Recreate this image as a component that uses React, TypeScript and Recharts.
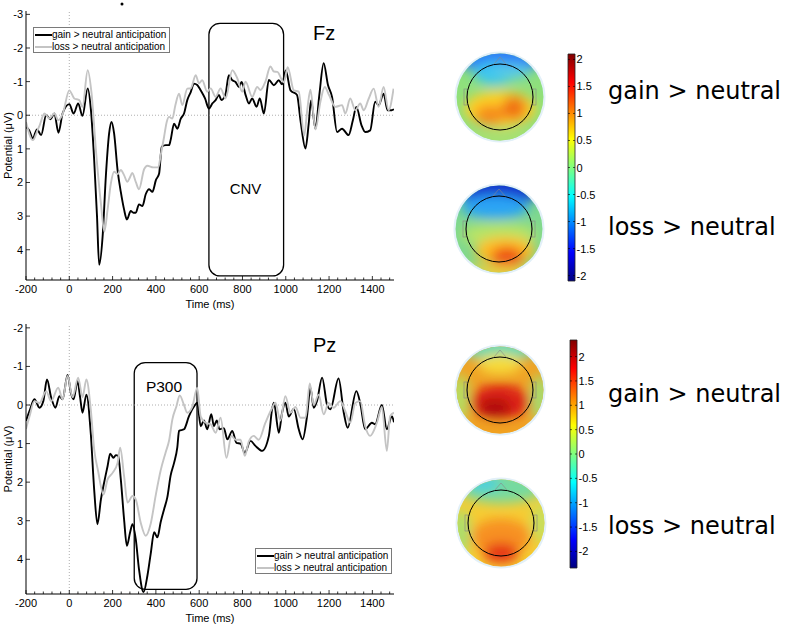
import React from 'react';
import { LineChart, Line, XAxis, YAxis, ReferenceLine, ReferenceArea, Legend, ComposedChart } from 'recharts';

const FONT = '"Liberation Sans", Arial, Helvetica, sans-serif';
const TEXT_FONT = '"DejaVu Sans", Verdana, sans-serif';

// ---------- data ----------
const xMajorTicks = [-200, 0, 200, 400, 600, 800, 1000, 1200, 1400];
const xMinorStep = 40;
const fzTicks = [-3, -2, -1, 0, 1, 2, 3, 4];
const pzTicks = [-2, -1, 0, 1, 2, 3, 4];
const cbTicks = [-2, -1.5, -1, -0.5, 0, 0.5, 1, 1.5, 2];
const seriesNames = ['gain > neutral anticipation', 'loss > neutral anticipation'];
const mapLabels = ['gain > neutral', 'loss > neutral'];

// [time ms, potential µV]
const fzGain: [number, number][] = [
  [-200, 0.35], [-185, 0.45], [-169, 0.69], [-149, 0.42], [-130, 0.59], [-107, 0.0], [-87, 0.12], [-69, -0.05],
  [-50, 0.52], [-31, -0.05], [0, -0.33], [20, -0.05], [41, -0.35], [61, 0.02], [85, -0.8], [100, -0.15],
  [115, 1.34], [128, 3.0], [138, 4.45], [154, 3.6], [169, 1.8], [184, 0.54], [195, 0.2], [207, 0.54],
  [223, 1.63], [238, 2.28], [253, 2.8], [266, 3.1], [284, 2.85], [296, 2.9], [307, 2.9], [322, 2.65],
  [338, 2.7], [353, 2.35], [369, 2.2], [384, 2.28], [400, 1.93], [415, 1.73], [427, 0.94], [446, 0.89],
  [461, 0.89], [468, 0.74], [484, 0.25], [499, 0.4], [515, 0.1], [530, -0.05], [545, -0.45], [561, -0.69],
  [576, -0.94], [591, -0.9], [607, -0.74], [627, -0.5], [645, -0.2], [661, -0.35], [676, -0.45], [691, -0.6],
  [703, -0.45], [722, -0.64], [737, -1.19], [753, -1.04], [768, -0.99], [784, -0.84], [796, -0.99], [815, -0.59],
  [830, -0.35], [845, -0.5], [865, -0.25], [880, -0.5], [899, -0.05], [922, -1.05], [945, -0.89], [968, -1.04],
  [983, -0.92], [1000, -1.33], [1022, -0.74], [1052, -0.6], [1068, 0.15], [1091, 0.99], [1106, 0.25], [1117, -0.45],
  [1137, 0.4], [1155, -0.6], [1175, -1.55], [1195, -0.9], [1214, -0.54], [1237, 0.5], [1260, 0.4], [1290, 0.59],
  [1310, 0.15], [1326, -0.25], [1350, 0.3], [1367, 0.5], [1390, 0.45], [1413, -0.4], [1429, -0.3], [1452, -0.64],
  [1470, -0.15], [1490, -0.15], [1500, -0.18],
];
const fzLoss: [number, number][] = [
  [-200, 0.2], [-168, 0.74], [-150, 0.5], [-137, 0.3], [-115, -0.05], [-92, 0.1], [-69, -0.05], [-51, 0.15],
  [-30, -0.05], [0, -0.74], [23, -0.5], [46, -0.45], [61, -0.25], [85, -1.34], [103, -0.64], [123, 1.04],
  [146, 2.62], [162, 3.46], [177, 2.8], [192, 2.03], [207, 1.68], [223, 1.75], [238, 1.63], [253, 1.78],
  [268, 1.98], [280, 1.85], [291, 1.72], [308, 2.0], [322, 2.2], [346, 1.6], [361, 1.5], [388, 1.55],
  [411, 1.55], [422, 1.2], [438, 0.64], [450, 0.2], [461, 0.05], [476, 0.1], [490, -0.3], [507, -0.64],
  [522, -0.3], [545, -0.79], [561, -0.8], [584, -1.19], [599, -0.95], [614, -1.04], [637, -0.7], [653, -0.8],
  [676, -0.55], [699, -0.8], [722, -0.5], [753, -1.34], [776, -1.1], [799, -0.7], [814, -1.0], [845, -0.55],
  [868, -0.84], [883, -0.75], [906, -1.0], [929, -1.45], [945, -1.3], [961, -1.29], [991, -0.98], [1009, -1.43],
  [1037, -0.74], [1060, -0.7], [1085, 0.6], [1100, -0.2], [1114, -0.76], [1137, 0.42], [1160, -0.4], [1180, -0.84],
  [1200, -0.6], [1229, -0.25], [1260, -0.3], [1275, -0.05], [1298, -0.5], [1321, -0.15], [1344, -0.35], [1360, -0.15],
  [1383, -0.49], [1406, -0.79], [1429, -0.25], [1452, -0.84], [1475, -0.15], [1498, -0.79],
];
const pzGain: [number, number][] = [
  [-200, 0.41], [-184, 0.16], [-161, -0.15], [-138, 0.07], [-120, -0.1], [-103, -0.66], [-84, -0.2], [-64, 0.07],
  [-46, -0.23], [-31, -0.15], [-8, -0.78], [8, -0.3], [20, -0.15], [38, -0.62], [50, -0.2], [61, 0.2],
  [79, -0.27], [99, 0.72], [115, 2.2], [130, 3.09], [146, 2.45], [161, 2.01], [177, 1.58], [189, 1.26],
  [204, 1.37], [215, 1.3], [226, 1.32], [238, 1.93], [253, 2.96], [266, 3.65], [281, 3.3], [292, 3.09],
  [307, 3.48], [322, 4.26], [343, 4.85], [361, 4.42], [376, 3.86], [392, 3.3], [407, 3.43], [422, 3.04],
  [438, 2.7], [453, 2.39], [468, 1.83], [484, 1.5], [499, 1.1], [507, 0.67], [530, 0.63], [553, 0.29],
  [581, 0.0], [591, -0.06], [607, 0.55], [622, 0.4], [637, 0.63], [656, 0.24], [668, 0.55], [681, 0.4],
  [694, 0.63], [714, 0.6], [730, 0.89], [753, 0.67], [772, 0.98], [791, 1.0], [811, 1.24], [837, 0.93],
  [860, 1.06], [891, 1.19], [922, 0.8], [937, 0.1], [945, -0.06], [968, 0.72], [983, 0.2], [998, -0.06],
  [1014, 0.3], [1037, 0.1], [1060, 0.63], [1078, 0.89], [1098, 0.3], [1114, -0.45], [1129, 0.07], [1144, -0.1],
  [1168, -0.71], [1191, 0.0], [1206, 0.11], [1244, -0.69], [1268, 0.2], [1286, 0.59], [1326, -0.36], [1344, -0.05],
  [1367, 0.63], [1398, 0.46], [1413, 0.5], [1444, 0.0], [1467, 0.63], [1490, 0.29], [1500, 0.45],
];
const pzLoss: [number, number][] = [
  [-200, 0.62], [-184, 0.3], [-161, -0.1], [-138, -0.05], [-107, -0.36], [-84, -0.1], [-51, -0.45], [-31, -0.15],
  [-8, -0.75], [15, -0.2], [41, -0.71], [61, -0.2], [79, -0.66], [99, 0.1], [115, 1.15], [133, 1.71],
  [158, 2.32], [177, 1.93], [200, 1.76], [223, 1.5], [235, 1.11], [253, 1.84], [269, 2.53], [292, 2.36],
  [307, 2.45], [330, 3.05], [353, 3.39], [376, 3.08], [399, 2.35], [422, 1.7], [445, 1.23], [461, 0.92],
  [476, 0.38], [495, 0.03], [510, -0.25], [530, 0.0], [545, 0.2], [568, 0.05], [591, -0.45], [607, 0.3],
  [630, 0.46], [653, 0.5], [676, 0.72], [699, 0.33], [726, 1.37], [749, 0.8], [768, 0.9], [791, 0.9],
  [811, 1.32], [829, 0.95], [852, 0.8], [875, 0.9], [906, 0.46], [934, 0.11], [952, -0.06], [975, 0.4],
  [998, -0.23], [1022, 0.2], [1045, 0.05], [1068, 0.33], [1091, 0.33], [1111, -0.56], [1129, 0.0], [1152, -0.27],
  [1175, 0.24], [1198, -0.05], [1221, 0.07], [1252, -0.1], [1275, 0.16], [1298, 0.46], [1321, -0.05], [1344, -0.1],
  [1367, 0.55], [1390, 0.8], [1421, 0.46], [1444, 0.05], [1467, 1.19], [1482, 0.29], [1500, 0.2],
];

// analysis windows [start ms, end ms, top µV, bottom µV]
const cnvWindow = [645, 990, -2.73, 4.78];
const p300Window = [300, 590, -1.1, 4.78];

// ---------- helpers ----------
const toPts = (a: [number, number][]) => a.map(([t, v]) => ({ t, v }));
const xTicks: number[] = [];
for (let t = xMajorTicks[0]; t < 1500; t += xMinorStep) xTicks.push(t);

const XTick = (props: any) => {
  const { x, y, payload } = props;
  const major = xMajorTicks.includes(payload.value);
  return (
    <g>
      <line x1={x} x2={x} y1={y} y2={y - (major ? 4 : 2.5)} stroke="#000" strokeWidth={0.8} />
      {major && (
        <text x={x} y={y + 13} textAnchor="middle" fontSize={11} fontFamily={FONT} fill="#000">
          {payload.value}
        </text>
      )}
    </g>
  );
};

const YTick = (props: any) => {
  const { x, y, payload } = props;
  return (
    <g>
      <line x1={x} x2={x + 4} y1={y} y2={y} stroke="#000" strokeWidth={0.8} />
      <text x={x - 3} y={y + 4} textAnchor="end" fontSize={11} fontFamily={FONT} fill="#000">
        {payload.value}
      </text>
    </g>
  );
};

const YLab = (props: any) => {
  const vb = props.viewBox || { x: 0, y: 0, width: 0, height: 0 };
  const cy = vb.y + vb.height / 2;
  return (
    <text x={8} y={cy} transform={`rotate(-90, 8, ${cy})`} textAnchor="middle" dominantBaseline="central" fontSize={11} fontFamily={FONT} fill="#000">
      Potential (μV)
    </text>
  );
};

const XLab = (props: any) => {
  const vb = props.viewBox || { x: 0, y: 0, width: 0, height: 0 };
  return (
    <text x={vb.x + vb.width / 2} y={vb.y + 23.5} textAnchor="middle" dominantBaseline="central" fontSize={11} fontFamily={FONT} fill="#000">
      Time (ms)
    </text>
  );
};

const RoundBox = (p: any) => (
  <rect x={p.x} y={p.y} width={p.width} height={p.height} rx={11} ry={11} fill="none" stroke="#000" strokeWidth={1.3} />
);

const LegendBox = (props: any) => {
  const payload = props.payload || [];
  return (
    <div style={{ border: '1px solid #7a7a7a', background: '#fff', width: 137, height: 26, boxSizing: 'border-box', padding: '1px 0 0 1px', fontFamily: FONT, fontSize: 10, lineHeight: '12px', color: '#000' }}>
      {payload.map((p: any, i: number) => (
        <div key={i} style={{ display: 'flex', alignItems: 'center', whiteSpace: 'nowrap' }}>
          <span style={{ display: 'inline-block', width: 17, height: 2, background: p.color }} />
          <span>{p.value}</span>
        </div>
      ))}
    </div>
  );
};

const ErpChart = ({ gain, loss, domain, ticks, top, height, marginTop, marginBottom, box, legendPos }: any) => (
  <div style={{ position: 'absolute', left: 0, top }}>
    <LineChart width={400} height={height} margin={{ top: marginTop, right: 6, bottom: marginBottom, left: 0 }}>
      <XAxis type="number" dataKey="t" domain={[-200, 1500]} ticks={xTicks} interval={0} tick={<XTick />}
        tickSize={0} tickMargin={0} tickLine={false} height={30} allowDataOverflow axisLine={{ stroke: '#000', strokeWidth: 1 }}
        label={<XLab />} />
      <YAxis type="number" domain={domain} reversed ticks={ticks} interval={0} tick={<YTick />} tickSize={0} tickMargin={0}
        tickLine={false} width={26} allowDataOverflow axisLine={{ stroke: '#000', strokeWidth: 1 }} label={<YLab />} />
      <ReferenceLine y={0} stroke="#999" strokeDasharray="1 2" strokeWidth={0.8} />
      <ReferenceLine x={0} stroke="#999" strokeDasharray="1 2" strokeWidth={0.8} />
      <ReferenceArea x1={box[0]} x2={box[1]} y1={box[2]} y2={box[3]} shape={RoundBox} />
      <Legend layout="vertical" align="center" verticalAlign="middle" content={<LegendBox />}
        wrapperStyle={{ left: legendPos[0], top: legendPos[1], width: 137, height: 26 }} />
      <Line data={toPts(gain)} dataKey="v" name={seriesNames[0]} type="monotone" stroke="#000" strokeWidth={1.9}
        dot={false} activeDot={false} isAnimationActive={false} legendType="plainline" />
      <Line data={toPts(loss)} dataKey="v" name={seriesNames[1]} type="monotone" stroke="#c4c4c4" strokeWidth={1.9}
        dot={false} activeDot={false} isAnimationActive={false} legendType="plainline" />
    </LineChart>
  </div>
);

// ---------- colorbar ----------
const jetStops: [number, string][] = [
  [0, '#800000'], [0.125, '#ff0000'], [0.375, '#ffff00'], [0.625, '#00ffff'], [0.875, '#0000ff'], [1, '#000080'],
];
const cbData = [{ x: 0 }, { x: 1 }];

const CbTick = (props: any) => {
  const { x, y, payload } = props;
  return (
    <g>
      <line x1={x - 2} x2={x} y1={y} y2={y} stroke="#000" strokeWidth={0.6} />
      <line x1={x - 7} x2={x - 5} y1={y} y2={y} stroke="#000" strokeWidth={0.6} />
      <text x={x + 1.5} y={y + 4} fontSize={11} fontFamily={FONT} fill="#000">{payload.value}</text>
    </g>
  );
};

const ColorBar = ({ id, left, top, lim, mTop, mBottom }: any) => (
  <div style={{ position: 'absolute', left, top }}>
    <ComposedChart width={45} height={250} data={cbData} margin={{ top: mTop, right: 0, bottom: mBottom, left: 8 }}>
      <defs>
        <linearGradient id={id} x1="0" y1="0" x2="0" y2="1">
          {jetStops.map(([o, c]) => <stop key={o} offset={o} stopColor={c} />)}
        </linearGradient>
      </defs>
      <XAxis type="number" dataKey="x" domain={[0, 1]} hide />
      <YAxis orientation="right" type="number" domain={[-lim, lim]} ticks={cbTicks} interval={0} width={30}
        tick={<CbTick />} tickSize={0} tickMargin={0} tickLine={false} axisLine={false} allowDataOverflow />
      <ReferenceArea x1={0} x2={1} y1={-lim} y2={lim} fill={`url(#${id})`} fillOpacity={1} stroke="#222" strokeWidth={0.8} />
    </ComposedChart>
  </div>
);

// ---------- topographic maps (decorative approximation) ----------
type Blob = [number, number, number, number, string];
const topoA: Blob[] = [
  [0, -40, 46, 16, '#2f7cf5'], [-6, -24, 20, 12, '#3cc6f0'], [12, -26, 18, 8, '#56c9e8'],
  [0, 12, 36, 18, '#ffd028'], [-10, 18, 15, 10, '#f58a1c'], [14, 11, 12, 12, '#f07018'], [0, 42, 44, 9, '#a8e070'],
];
const topoB: Blob[] = [
  [0, -40, 44, 16, '#1432cc'], [-4, -22, 34, 12, '#2aa4f5'], [0, 6, 38, 12, '#b8e466'],
  [6, 22, 30, 14, '#ffbe22'], [8, 28, 16, 10, '#ee4a12'], [0, 44, 40, 8, '#e8d040'],
];
const topoC: Blob[] = [
  [0, -42, 42, 12, '#66d8b4'], [0, -26, 22, 10, '#f6dc3a'], [-40, 8, 9, 24, '#b4e064'], [40, 8, 9, 24, '#a4de70'],
  [0, 12, 30, 18, '#dc2412'], [-5, 18, 16, 10, '#b01010'], [0, 42, 40, 8, '#f2a224'],
];
const topoD: Blob[] = [
  [0, -36, 44, 16, '#76daa0'], [-18, -40, 16, 8, '#46cfe0'], [-40, 10, 9, 24, '#a8e070'], [40, 0, 9, 20, '#c4e05e'],
  [0, 14, 30, 18, '#f79020'], [0, 30, 18, 10, '#e63212'],
];
const topoBase = ['#8fe07c', '#7fd88e', '#f0a224', '#f6cc32'];
const topoCenters: [number, number][] = [[500, 97], [499, 229], [500, 390], [501, 523]];
const topoBlobs = [topoA, topoB, topoC, topoD];

const Topo = ({ i }: { i: number }) => {
  const [cx, cy] = topoCenters[i];
  return (
    <g>
      <circle cx={cx} cy={cy} r={45.5} fill="#e2f0f8" />
      <clipPath id={`tclip${i}`}><circle cx={cx} cy={cy} r={43.5} /></clipPath>
      <g clipPath={`url(#tclip${i})`}>
        <circle cx={cx} cy={cy} r={44} fill={topoBase[i]} />
        <g filter="url(#tblur)">
          {topoBlobs[i].map((b, k) => (
            <ellipse key={k} cx={cx + b[0]} cy={cy + b[1]} rx={b[2]} ry={b[3]} fill={b[4]} />
          ))}
        </g>
      </g>
      <path d={`M${cx - 6} ${cy - 33} L${cx} ${cy - 40} L${cx + 6} ${cy - 33}`} fill="none" stroke="#888" strokeWidth={0.6} />
      <rect x={cx - 36} y={cy - 8} width={3} height={16} fill="none" stroke="#888" strokeWidth={0.6} />
      <rect x={cx + 33} y={cy - 8} width={3} height={16} fill="none" stroke="#888" strokeWidth={0.6} />
      <circle cx={cx} cy={cy} r={33} fill="none" stroke="#000" strokeWidth={1} />
    </g>
  );
};

export default function App() {
  return (
    <div style={{ position: 'absolute', left: 0, top: 0, width: 789, height: 624, background: '#fff', fontFamily: FONT, overflow: 'hidden' }}>
      <ErpChart gain={fzGain} loss={fzLoss} domain={[-3.1, 4.9]} ticks={fzTicks} top={0} height={316} marginTop={11} marginBottom={6}
        box={cnvWindow} legendPos={[33, 27]} />
      <ErpChart gain={pzGain} loss={pzLoss} domain={[-2.1, 4.9]} ticks={pzTicks} top={300} height={324} marginTop={24} marginBottom={0}
        box={p300Window} legendPos={[255, 248]} />
      <svg width={789} height={624} style={{ position: 'absolute', left: 0, top: 0, pointerEvents: 'none' }}>
        <defs>
          <filter id="tblur" x="-50%" y="-50%" width="200%" height="200%">
            <feGaussianBlur stdDeviation={6} />
          </filter>
        </defs>
        <circle cx={122} cy={4} r={1.5} fill="#000" />
        <text x={313} y={40} fontSize={20} fontFamily={FONT} fill="#000">Fz</text>
        <text x={245.5} y={193.5} fontSize={15} fontFamily={FONT} fill="#000" textAnchor="middle">CNV</text>
        <text x={313} y={352} fontSize={20} fontFamily={FONT} fill="#000">Pz</text>
        <text x={164} y={392} fontSize={15.5} fontFamily={FONT} fill="#000" textAnchor="middle">P300</text>
        {[0, 1, 2, 3].map((i) => <Topo key={i} i={i} />)}
        <text x={608} y={99} fontSize={24} fontFamily={TEXT_FONT} fill="#000">{mapLabels[0]}</text>
        <text x={608} y={235} fontSize={24} fontFamily={TEXT_FONT} fill="#000">{mapLabels[1]}</text>
        <text x={608} y={402} fontSize={24} fontFamily={TEXT_FONT} fill="#000">{mapLabels[0]}</text>
        <text x={608} y={534} fontSize={24} fontFamily={TEXT_FONT} fill="#000">{mapLabels[1]}</text>
      </svg>
      <ColorBar id="jet1" left={560} top={40} lim={2.1} mTop={14} mBottom={9} />
      <ColorBar id="jet2" left={562} top={330} lim={2.34} mTop={10} mBottom={12} />
    </div>
  );
}
